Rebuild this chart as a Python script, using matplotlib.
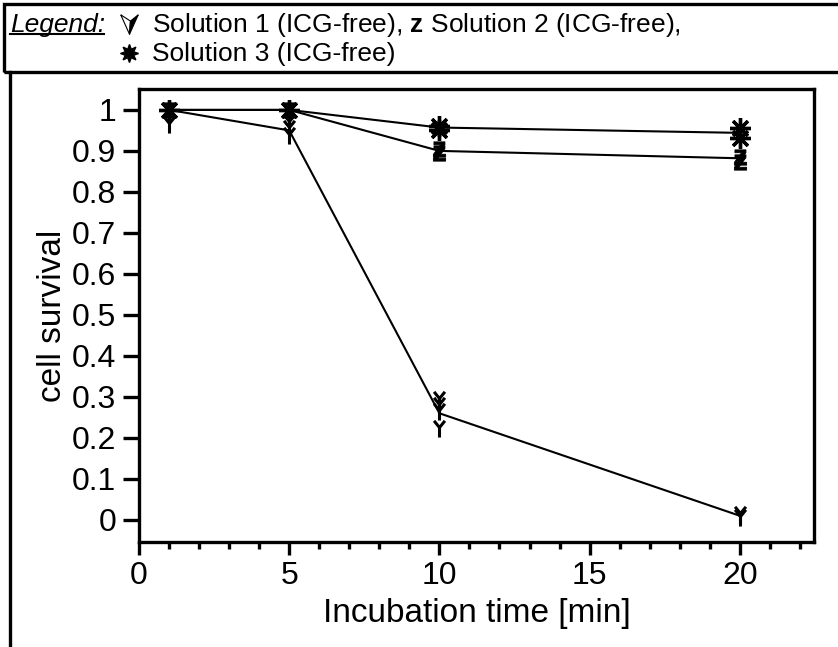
import numpy as np
import matplotlib
matplotlib.use("Agg")
import matplotlib.pyplot as plt
from matplotlib.path import Path
from matplotlib.lines import Line2D
from matplotlib.patches import Rectangle
from matplotlib.ticker import MultipleLocator, FormatStrFormatter

plt.rcParams['font.family'] = ['Liberation Sans', 'DejaVu Sans']
plt.rcParams['mathtext.fontset'] = 'custom'
plt.rcParams['mathtext.rm'] = 'Liberation Sans'
plt.rcParams['mathtext.bf'] = 'Liberation Sans:bold'

# data
time = [1, 5, 10, 20]
sol1_mean = [1.0, 0.95, 0.26, 0.01]
sol2_mean = [1.0, 1.0, 0.90, 0.882]
sol3_mean = [1.0, 1.0, 0.957, 0.944]

# single measurements
sol1_x = [1, 5, 5, 5, 10, 10, 10, 10, 20, 20]
sol1_y = [0.965, 0.97, 0.955, 0.94, 0.295, 0.28, 0.265, 0.225, 0.015, 0.008]
sol2_x = [1, 5, 10, 10, 20, 20]
sol2_y = [1.0, 1.0, 0.905, 0.895, 0.885, 0.872]
sol3_x = [1, 5, 10, 10, 20, 20]
sol3_y = [1.0, 1.0, 0.96, 0.952, 0.955, 0.932]

legend_lines = ["Solution 1 (ICG-free), $\\mathbf{z}$ Solution 2 (ICG-free),",
                "Solution 3 (ICG-free)"]

W, H = 838, 647
fig = plt.figure(figsize=(W / 100, H / 100), dpi=100)

def fx(px):
    return px / W

def fy(py):
    return 1 - py / H

ax = fig.add_axes([fx(139), fy(542), fx(814) - fx(139), fy(89) - fy(542)])

# Y-shaped marker for solution 1
y_mark = Path([(0, -1), (0, 0.1), (-0.6, 0.85), (0, 0.1), (0.6, 0.85)],
              [Path.MOVETO, Path.LINETO, Path.MOVETO, Path.LINETO, Path.LINETO])

ax.plot(time, sol1_mean, color='black', lw=1.5)
ax.plot(time, sol2_mean, color='black', lw=1.5)
ax.plot(time, sol3_mean, color='black', lw=1.5)

ax.plot(sol1_x, sol1_y, ls='none', marker=y_mark, ms=13, mfc='none',
        mec='black', mew=2.2)
ax.plot(sol2_x, sol2_y, ls='none', marker='$\\mathbf{z}$', ms=11,
        color='black', mew=0.6)
ax.plot(sol3_x, sol3_y, ls='none', marker=(8, 2, 0), ms=15,
        mec='black', mew=2.4)

ax.set_xlim(0, 22.47)
ax.set_ylim(-0.054, 1.051)
ax.xaxis.set_major_locator(MultipleLocator(5))
ax.xaxis.set_minor_locator(MultipleLocator(1))
ax.yaxis.set_major_locator(MultipleLocator(0.1))
ax.yaxis.set_major_formatter(FormatStrFormatter('%g'))
ax.xaxis.set_major_formatter(FormatStrFormatter('%g'))

for s in ax.spines.values():
    s.set_linewidth(2.4)
ax.tick_params(axis='both', which='major', direction='out', width=2.4,
               labelsize=23)
ax.tick_params(axis='x', which='major', length=9.5, pad=4)
ax.tick_params(axis='x', which='minor', length=5, width=2.4)
ax.tick_params(axis='y', which='major', length=11.5, pad=5)

ax.set_xlabel('Incubation time [min]', fontsize=24, labelpad=5)
ax.set_ylabel('cell survival', fontsize=24, labelpad=3)

# legend box and frame
fig.add_artist(Rectangle((fx(4), fy(72)), fx(845) - fx(4), fy(4) - fy(72),
                         transform=fig.transFigure, fill=False,
                         lw=2.4, ec='black'))
fig.add_artist(Line2D([fx(10), fx(10)], [fy(72), fy(650)],
                      transform=fig.transFigure, color='black', lw=2.4))

fig.text(fx(10), fy(32), 'Legend:', style='italic', fontsize=19,
         va='baseline', ha='left')
fig.add_artist(Line2D([fx(10), fx(104)], [fy(34), fy(34)],
                      transform=fig.transFigure, color='black', lw=1.5))

# legend symbols
left_half = Path([(-0.9, 1), (0, -1), (0.1, 0.35), (-0.9, 1)])
right_half = Path([(0.9, 1), (0, -1), (0.1, 0.35), (0.9, 1)])
fig.add_artist(Line2D([fx(129)], [fy(24)], transform=fig.transFigure,
                      marker=left_half, ms=14, mfc='white', mec='black',
                      mew=0.8, ls='none'))
fig.add_artist(Line2D([fx(129)], [fy(24)], transform=fig.transFigure,
                      marker=right_half, ms=14, mfc='black', mec='black',
                      mew=0.8, ls='none'))
fig.add_artist(Line2D([fx(129)], [fy(53)], transform=fig.transFigure,
                      marker=(8, 1, 0), ms=13, color='black', ls='none'))

fig.text(fx(152), fy(32), legend_lines[0], fontsize=19, va='baseline',
         ha='left')
fig.text(fx(152), fy(61), legend_lines[1], fontsize=19, va='baseline',
         ha='left')

fig.savefig('out.png', dpi=100)
